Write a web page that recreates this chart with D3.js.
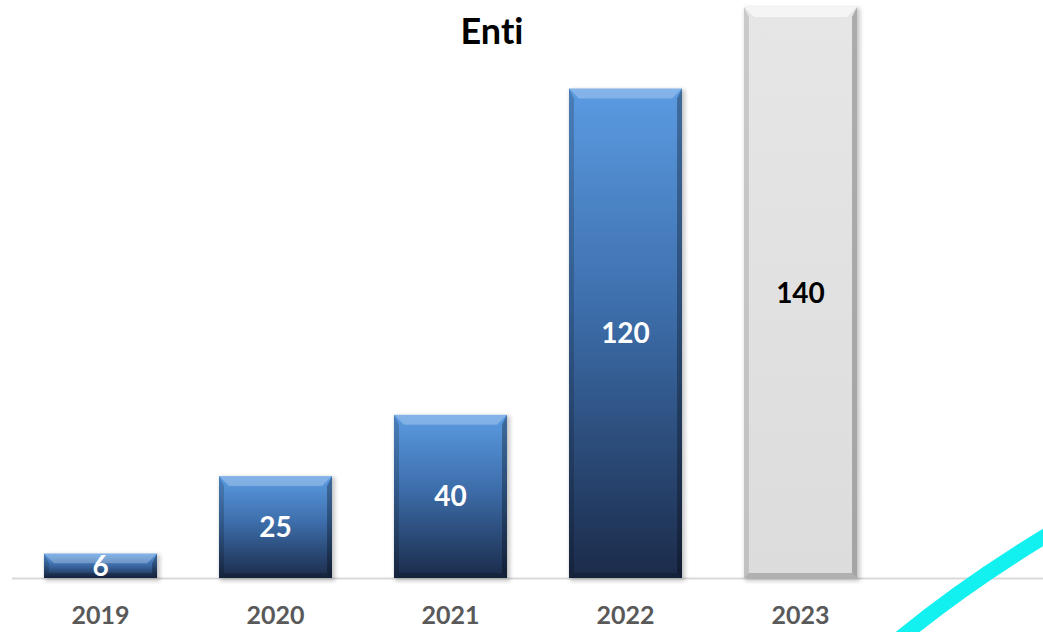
<!DOCTYPE html>
<html><head><meta charset="utf-8">
<script src="https://cdn.jsdelivr.net/npm/d3@7"></script>
<style>html,body{margin:0;padding:0;background:#fff;}svg{display:block;}text{font-variant-ligatures:none;}</style>
</head><body>
<script>
const categories = ["2019","2020","2021","2022","2023"];
const values = [6, 25, 40, 120, 140];
const title = "Enti";

const W = 1043, H = 632;
const svg = d3.select("body").append("svg").attr("width", W).attr("height", H);
const defs = svg.append("defs");

const x = d3.scaleBand().domain(categories).range([13, 888]).paddingInner(0.354).paddingOuter(0.177);
const y = d3.scaleLinear().domain([0, 140]).range([578, 7]);

const blue = defs.append("linearGradient").attr("id","gBlue").attr("x1",0).attr("y1",0).attr("x2",0).attr("y2",1);
blue.append("stop").attr("offset","0%").attr("stop-color","#5b9be2");
blue.append("stop").attr("offset","45%").attr("stop-color","#3d6eab");
blue.append("stop").attr("offset","100%").attr("stop-color","#1b2b4a");
const grey = defs.append("linearGradient").attr("id","gGrey").attr("x1",0).attr("y1",0).attr("x2",0).attr("y2",1);
grey.append("stop").attr("offset","0%").attr("stop-color","#e6e6e6");
grey.append("stop").attr("offset","100%").attr("stop-color","#dcdcdc");
const blur = defs.append("filter").attr("id","sh").attr("x","-20%").attr("y","-20%").attr("width","140%").attr("height","140%");
blur.append("feGaussianBlur").attr("stdDeviation", 2);

// axis line
svg.append("line").attr("x1", 12).attr("x2", W).attr("y1", 578.5).attr("y2", 578.5)
  .attr("stroke", "#d9d9d9").attr("stroke-width", 2);

// decorative cyan swoosh
svg.append("path").attr("d", "M 893 644 Q 962 586 1052 532")
  .attr("fill","none").attr("stroke","#12f0f0").attr("stroke-width",15);

const data = categories.map((c,i)=>({c, v: values[i], last: i === categories.length-1}));
const g = svg.append("g").selectAll("g").data(data).join("g");

g.each(function(d){
  const sel = d3.select(this);
  const x0 = x(d.c), w = x.bandwidth(), y0 = y(d.v), h = y(0) - y(d.v);
  const b = Math.min(10, h/2.5);
  sel.append("rect").attr("x", x0+1).attr("y", y0+1).attr("width", w+2).attr("height", h+2)
    .attr("fill", "#000").attr("opacity", 0.22).attr("filter","url(#sh)");
  sel.append("rect").attr("x", x0).attr("y", y0).attr("width", w).attr("height", h)
    .attr("fill", d.last ? "url(#gGrey)" : "url(#gBlue)");
  const x1 = x0 + w, y1 = y0 + h;
  sel.append("path").attr("d", `M${x0},${y0}L${x1},${y0}L${x1-b},${y0+b}L${x0+b},${y0+b}Z`)
    .attr("fill", "#fff").attr("opacity", d.last ? 0.6 : 0.25);
  sel.append("path").attr("d", `M${x0},${y0}L${x0+b*0.5},${y0+b}L${x0+b*0.5},${y1-b*0.5}L${x0},${y1}Z`)
    .attr("fill", "#000").attr("opacity", d.last ? 0.12 : 0.18);
  sel.append("path").attr("d", `M${x1},${y0}L${x1-b*0.5},${y0+b}L${x1-b*0.5},${y1-b*0.5}L${x1},${y1}Z`)
    .attr("fill", "#000").attr("opacity", d.last ? 0.25 : 0.3);
  sel.append("path").attr("d", `M${x0},${y1}L${x0+b*0.5},${y1-b*0.5}L${x1-b*0.5},${y1-b*0.5}L${x1},${y1}Z`)
    .attr("fill", "#000").attr("opacity", 0.2);
  sel.append("text").attr("x", x0 + w/2).attr("y", y0 + h/2 + 10)
    .attr("text-anchor","middle").attr("font-family","Lato, 'Open Sans', sans-serif")
    .attr("font-weight","bold").attr("font-size", 28)
    .attr("fill", d.last ? "#000" : "#fff").text(d.v);
});

svg.append("g").selectAll("text").data(categories).join("text")
  .attr("x", d => x(d) + x.bandwidth()/2).attr("y", 624)
  .attr("text-anchor","middle").attr("font-family","Lato, 'Open Sans', sans-serif")
  .attr("font-weight","bold").attr("font-size", 25).attr("fill","#595959").text(d=>d);

svg.append("text").attr("x", 492).attr("y", 44).attr("text-anchor","middle")
  .attr("font-family","Lato, 'Open Sans', sans-serif").attr("font-weight","bold")
  .attr("font-size", 36).attr("fill","#000").text(title);
</script>
</body></html>
